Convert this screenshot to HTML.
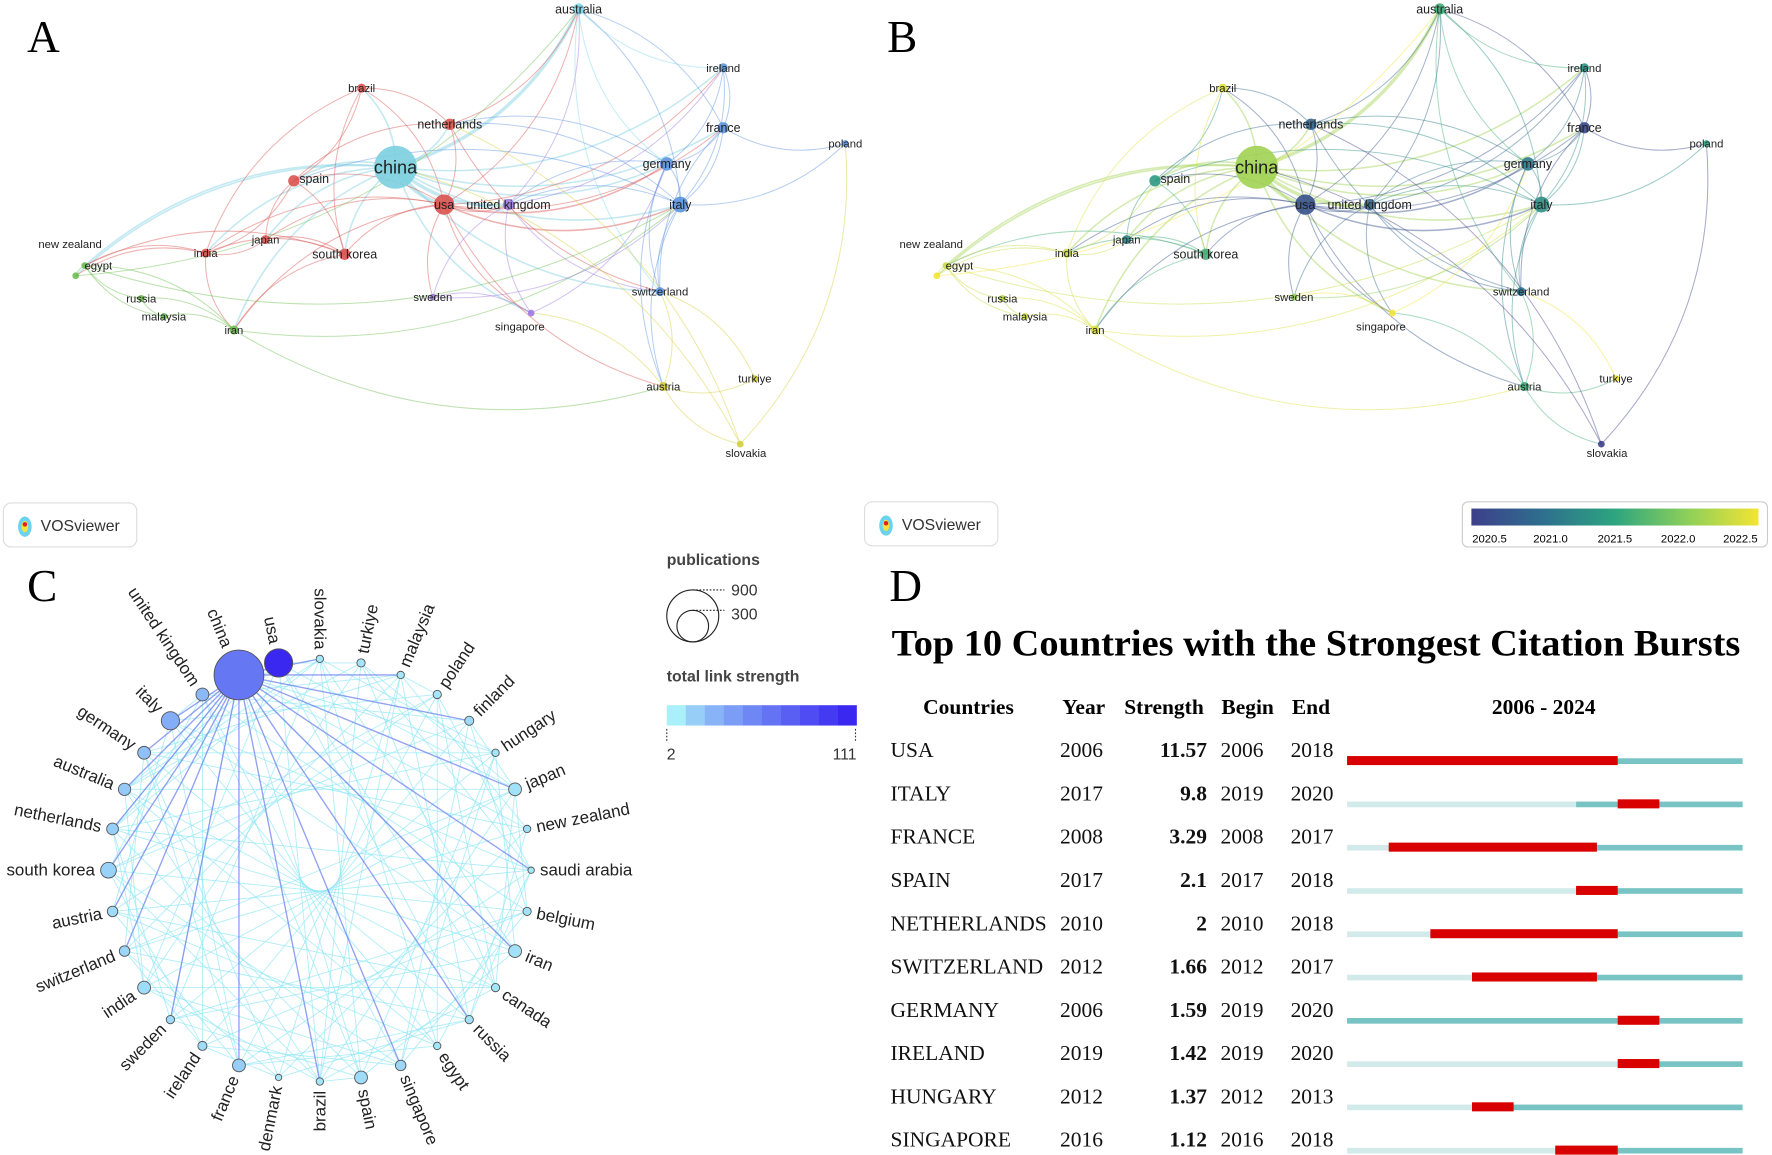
<!DOCTYPE html>
<html><head><meta charset="utf-8"><style>
html,body{margin:0;padding:0;background:#fff;}
svg{display:block;font-family:"Liberation Sans","DejaVu Sans",sans-serif;}
</style></head><body>
<svg id="fig" width="1772" height="1155" viewBox="0 0 1568 1022" xmlns="http://www.w3.org/2000/svg">
<defs>
<linearGradient id="yearGrad" x1="0" x2="1" y1="0" y2="0">
<stop offset="0" stop-color="#3d3f8a"/><stop offset="0.25" stop-color="#2e6f8e"/><stop offset="0.5" stop-color="#2da57f"/><stop offset="0.75" stop-color="#8ccf5a"/><stop offset="1" stop-color="#f3e434"/>
</linearGradient>
</defs>
<g id="panelA"></g>
<g id="panelB"></g>
<g id="panelC"></g>
<g id="panelD"></g>
<text x="24" y="46" font-family="Liberation Serif,serif" font-size="40">A</text>
<text x="785" y="46" font-family="Liberation Serif,serif" font-size="40">B</text>
<text x="24" y="532" font-family="Liberation Serif,serif" font-size="40">C</text>
<text x="787" y="532" font-family="Liberation Serif,serif" font-size="40">D</text>
<g>
<rect x="3" y="445" width="118" height="39" rx="7" fill="#fff" stroke="#ddd"/>
<ellipse cx="22" cy="466" rx="6" ry="9" fill="#6bd3f0"/><ellipse cx="22" cy="466" rx="3" ry="5" fill="#f5e23a"/><circle cx="22" cy="464" r="2" fill="#d22"/>
<text x="36" y="470" font-size="14" fill="#333">VOSviewer</text></g>
<g>
<rect x="765" y="444" width="118" height="39" rx="7" fill="#fff" stroke="#ddd"/>
<ellipse cx="784" cy="465" rx="6" ry="9" fill="#6bd3f0"/><ellipse cx="784" cy="465" rx="3" ry="5" fill="#f5e23a"/><circle cx="784" cy="463" r="2" fill="#d22"/>
<text x="798" y="469" font-size="14" fill="#333">VOSviewer</text></g>
<g>
<rect x="1294" y="444" width="270" height="40" rx="5" fill="#fff" stroke="#ccc"/>
<rect x="1302" y="450" width="254" height="15" fill="url(#yearGrad)"/>
<text x="1318" y="480" font-size="10" text-anchor="middle">2020.5</text>
<text x="1372" y="480" font-size="10" text-anchor="middle">2021.0</text>
<text x="1429" y="480" font-size="10" text-anchor="middle">2021.5</text>
<text x="1485" y="480" font-size="10" text-anchor="middle">2022.0</text>
<text x="1540" y="480" font-size="10" text-anchor="middle">2022.5</text>
</g>
<g>
<text x="590" y="500" font-size="14" font-weight="bold" fill="#444">publications</text>
<circle cx="613" cy="545" r="23" fill="none" stroke="#222"/>
<circle cx="613" cy="554" r="14" fill="none" stroke="#222"/>
<line x1="613" y1="522" x2="641" y2="522" stroke="#222" stroke-dasharray="1.5 1.5"/>
<line x1="613" y1="540" x2="641" y2="540" stroke="#222" stroke-dasharray="1.5 1.5"/>
<text x="647" y="527" font-size="14" fill="#333">900</text>
<text x="647" y="548" font-size="14" fill="#333">300</text>
<text x="590" y="603" font-size="14" font-weight="bold" fill="#444">total link strength</text>
<g id="tlsBar"></g>
<text x="590" y="672" font-size="14" fill="#333">2</text>
<text x="758" y="672" font-size="14" fill="#333" text-anchor="end">111</text>
</g>
</svg>
<script>
const NS="http://www.w3.org/2000/svg";
function mk(tag,attrs,parent){const e=document.createElementNS(NS,tag);for(const k in attrs)e.setAttribute(k,attrs[k]);parent.appendChild(e);return e;}

const netNames=["australia","ireland","brazil","netherlands","france","poland","china","germany","spain","usa","united kingdom","italy","new zealand","egypt","india","japan","south korea","russia","malaysia","iran","sweden","singapore","switzerland","austria","turkiye","slovakia"];
const netX=[512,640,320,398,640,748,350,590,260,393,450,602,67,75,182,235,305,125,145,207,383,470,584,587,668,655];
const netY=[8,60,78,110,113,127,148,145,160,181,181,181,244,235,224,212,225,264,280,292,263,277,258,342,335,393];
const labelDX=[0,0,0,0,0,0,0,0,18,0,0,0,-5,12,0,0,0,0,0,0,0,-10,0,0,0,5];
const labelDY=[0,0,0,0,0,0,0,0,-2,0,0,0,-28,0,0,0,0,0,0,0,0,12,0,0,0,8];
const netSize=[5,4,4,5,5,3,19,6,5,9,5,7,3,3,4,4,5,3,3,4,3,3,4,4,3,3];
const netCluster=["#7dd6ea","#5b93e0","#d9534f","#d9534f","#5b93e0","#5b93e0","#7ccfe0","#5b93e0","#d9534f","#d9534f","#9b7be0","#5b93e0","#6cbf4f","#6cbf4f","#d9534f","#d9534f","#d9534f","#6cbf4f","#6cbf4f","#6cbf4f","#9b7be0","#9b7be0","#5b93e0","#d4cf3a","#d4cf3a","#d4cf3a"];
const netYear=[2021.6,2021.3,2022.4,2020.9,2020.6,2021.5,2022.1,2021.1,2021.4,2020.7,2020.9,2021.3,2022.5,2022.3,2022.3,2021.2,2021.6,2022.2,2022.3,2022.4,2022.0,2022.6,2021.0,2021.6,2022.5,2020.5];
const netLinks=[["china","australia"],["china","usa"],["china","united kingdom"],["china","italy"],["china","germany"],["china","netherlands"],["china","spain"],["china","south korea"],["china","japan"],["china","india"],["china","singapore"],["china","new zealand"],["china","egypt"],["china","iran"],["china","brazil"],["china","france"],["china","ireland"],["china","switzerland"],["usa","italy"],["usa","germany"],["usa","united kingdom"],["usa","south korea"],["usa","spain"],["usa","brazil"],["usa","netherlands"],["usa","india"],["usa","japan"],["usa","austria"],["usa","sweden"],["usa","singapore"],["usa","iran"],["usa","australia"],["usa","france"],["usa","ireland"],["italy","germany"],["italy","france"],["italy","ireland"],["italy","switzerland"],["italy","poland"],["italy","united kingdom"],["italy","spain"],["italy","austria"],["italy","australia"],["italy","netherlands"],["germany","france"],["germany","ireland"],["germany","switzerland"],["germany","united kingdom"],["germany","netherlands"],["germany","austria"],["france","poland"],["france","ireland"],["france","australia"],["france","switzerland"],["united kingdom","singapore"],["united kingdom","sweden"],["united kingdom","australia"],["united kingdom","ireland"],["united kingdom","switzerland"],["south korea","india"],["south korea","japan"],["south korea","spain"],["south korea","iran"],["south korea","egypt"],["india","japan"],["india","spain"],["india","egypt"],["india","new zealand"],["india","iran"],["spain","brazil"],["spain","japan"],["netherlands","brazil"],["netherlands","australia"],["netherlands","switzerland"],["netherlands","spain"],["iran","russia"],["iran","malaysia"],["iran","egypt"],["iran","austria"],["iran","italy"],["egypt","russia"],["egypt","malaysia"],["egypt","new zealand"],["egypt","italy"],["new zealand","australia"],["russia","malaysia"],["austria","slovakia"],["austria","turkiye"],["austria","switzerland"],["austria","singapore"],["slovakia","china"],["slovakia","netherlands"],["slovakia","poland"],["turkiye","switzerland"],["singapore","sweden"],["singapore","germany"],["australia","ireland"],["australia","switzerland"],["australia","germany"],["sweden","italy"],["brazil","south korea"],["brazil","india"]];
function yearColor(y){
  const stops=[[2020.5,[61,63,138]],[2021.0,[46,111,142]],[2021.5,[45,165,127]],[2022.0,[140,207,90]],[2022.5,[243,228,52]]];
  if(y<=stops[0][0])return "rgb("+stops[0][1]+")";
  for(let i=0;i<stops.length-1;i++){const a=stops[i],b=stops[i+1];if(y<=b[0]){const t=(y-a[0])/(b[0]-a[0]);return "rgb("+a[1].map((v,k)=>Math.round(v+(b[1][k]-v)*t))+")";}}
  return "rgb("+stops[4][1]+")";
}
function drawNet(g,dx,colorFn){
  const idx={};netNames.forEach((n,i)=>idx[n]=i);
  netLinks.forEach((l,k)=>{
    const a=idx[l[0]],b=idx[l[1]];
    const x1=netX[a]+dx,y1=netY[a],x2=netX[b]+dx,y2=netY[b];
    const mx=(x1+x2)/2,my=(y1+y2)/2;
    const cx=mx-(y2-y1)*0.22,cy=my+(x2-x1)*0.22;
    const w=(k<3?3:(k<20?1.4:0.9));
    const p=mk("path",{d:`M${x1},${y1} Q${cx},${cy} ${x2},${y2}`,fill:"none",stroke:colorFn(a),"stroke-width":w,"stroke-opacity":0.45},g);
    
    
  });
  netNames.forEach((n,i)=>{
    const c=mk("circle",{cx:netX[i]+dx,cy:netY[i],r:netSize[i],fill:colorFn(i),"fill-opacity":0.9},g);
    
    
    const fs=n==="china"?16:(netSize[i]>=5?11:10);
    const t=mk("text",{x:netX[i]+dx+labelDX[i],y:netY[i]+fs*0.35+labelDY[i],"font-size":fs,"text-anchor":"middle",fill:"#222"},g);
    t.textContent=n;
    
    
  });
}
drawNet(document.getElementById("panelA"),0,i=>netCluster[i]);
drawNet(document.getElementById("panelB"),762,i=>yearColor(netYear[i]));

const chordNames=["slovakia","turkiye","malaysia","poland","finland","hungary","japan","new zealand","saudi arabia","belgium","iran","canada","russia","egypt","singapore","spain","brazil","denmark","france","ireland","sweden","india","switzerland","austria","south korea","netherlands","australia","germany","italy","united kingdom","china","usa"];
const chordPubs=[20,25,20,25,30,20,60,20,15,25,60,25,25,20,40,60,20,15,60,30,25,60,40,40,90,50,55,60,120,60,900,290];
const chordTLS=[4,5,4,5,8,5,6,7,4,6,6,5,6,5,10,8,5,4,14,8,8,8,10,8,12,14,16,20,30,24,60,111];
const chordLinks=[];
(function(){const n=chordNames.length;for(let i=0;i<n;i++){for(let j=i+1;j<n;j++){if((i*7+j*3)%5===0||(i*3+j*11)%13===0)chordLinks.push([i,j]);}}})();
const C={cx:283,cy:770,r:187};
function tlsColor(v){const t=Math.min(1,(v-2)/109);const a=[170,240,250],b=[58,40,240];return "rgb("+a.map((x,k)=>Math.round(x+(b[k]-x)*Math.pow(t,0.8)))+")";}
(function(){
  const g=document.getElementById("panelC");
  const n=chordNames.length;
  const pos=chordNames.map((_,i)=>{const th=(-90+i*360/n)*Math.PI/180;return [C.cx+C.r*Math.cos(th),C.cy+C.r*Math.sin(th),th];});
  chordLinks.forEach(l=>{
    const a=pos[l[0]],b=pos[l[1]];
    const ln=mk("line",{x1:a[0],y1:a[1],x2:b[0],y2:b[1],stroke:"#8fe6f5","stroke-width":0.8,"stroke-opacity":0.7},g);
    
    
  });
  const ci=chordNames.indexOf("china");
  for(let j=0;j<n;j++){if(j>=ci-1&&j<=ci+1)continue;
    if(j%2===0||j>=22){const b=pos[j];const ln=mk("line",{x1:pos[ci][0],y1:pos[ci][1],x2:b[0],y2:b[1],stroke:"#6e82ee","stroke-width":1.2,"stroke-opacity":0.75},g);
    
    }}
  chordNames.forEach((name,i)=>{
    const p=pos[i];const r=Math.max(2.5,Math.sqrt(chordPubs[i]/900)*22);
    const c=mk("circle",{cx:p[0],cy:p[1],r:r,fill:tlsColor(chordTLS[i]),stroke:"#555","stroke-width":0.8},g);
    
    
    const deg=p[2]*180/Math.PI;const right=Math.cos(p[2])>0.05;
    const off=r+5;const lx=C.cx+(C.r+off)*Math.cos(p[2]),ly=C.cy+(C.r+off)*Math.sin(p[2]);
    const t=mk("text",{x:lx,y:ly,"font-size":15,fill:"#222","dominant-baseline":"central","text-anchor":right?"start":"end",transform:`rotate(${right?deg:deg+180} ${lx} ${ly})`},g);
    t.textContent=name;
    
    
  });
  const bar=document.getElementById("tlsBar");
  for(let k=0;k<10;k++){const rc=mk("rect",{x:590+k*16.8,y:624,width:17,height:18,fill:tlsColor(2+k*109/9)},bar);
    
    }
  mk("line",{x1:590,y1:645,x2:590,y2:656,stroke:"#333","stroke-dasharray":"1.5 1.5"},bar);
  mk("line",{x1:757,y1:645,x2:757,y2:656,stroke:"#333","stroke-dasharray":"1.5 1.5"},bar);
})();

const burstCountries=["USA","ITALY","FRANCE","SPAIN","NETHERLANDS","SWITZERLAND","GERMANY","IRELAND","HUNGARY","SINGAPORE"];
const burstYear=[2006,2017,2008,2017,2010,2012,2006,2019,2012,2016];
const burstStrength=["11.57","9.8","3.29","2.1","2","1.66","1.59","1.42","1.37","1.12"];
const burstBegin=[2006,2019,2008,2017,2010,2012,2019,2019,2012,2016];
const burstEnd=[2018,2020,2017,2018,2018,2017,2020,2020,2013,2018];
(function(){
  const g=document.getElementById("panelD");
  const serif="Liberation Serif,serif";
  const title=mk("text",{x:789,y:580,"font-family":serif,"font-size":33,"font-weight":"bold",textLength:751,lengthAdjust:"spacingAndGlyphs"},g);
  title.textContent="Top 10 Countries with the Strongest Citation Bursts";
  
  
  const hdr=[["Countries",857,"middle"],["Year",959,"middle"],["Strength",1030,"middle"],["Begin",1104,"middle"],["End",1160,"middle"],["2006 - 2024",1366,"middle"]];
  hdr.forEach(h=>{const t=mk("text",{x:h[1],y:632,"font-family":serif,"font-size":19,"font-weight":"bold","text-anchor":h[2]},g);t.textContent=h[0];
    
    });
  const x0=1192,x1=1542,y0=2006,y1=2025;const xs=y=>x0+(y-y0)*(x1-x0)/(y1-y0);
  burstCountries.forEach((c,i)=>{
    const y=670+i*38.3;
    const cells=[[c,788,"start",false],[burstYear[i],938,"start",false],[burstStrength[i],1068,"end",true],[burstBegin[i],1080,"start",false],[burstEnd[i],1142,"start",false]];
    cells.forEach(cl=>{const t=mk("text",{x:cl[1],y:y,"font-family":serif,"font-size":19,"text-anchor":cl[2],"font-weight":cl[3]?"bold":"normal",fill:"#111"},g);t.textContent=cl[0];
      
      });
    const by=y+1;
    const l=mk("rect",{x:x0,y:by,width:xs(burstYear[i])-x0,height:5,fill:"#d3eaea"},g);
    
    
    const tl=mk("rect",{x:xs(burstYear[i]),y:by,width:x1-xs(burstYear[i]),height:5,fill:"#78c3c3"},g);
    
    
    const r=mk("rect",{x:xs(burstBegin[i]),y:by-2,width:xs(burstEnd[i]+1)-xs(burstBegin[i]),height:8,fill:"#d90000"},g);
    
    
  });
})();
</script>
</body></html>
